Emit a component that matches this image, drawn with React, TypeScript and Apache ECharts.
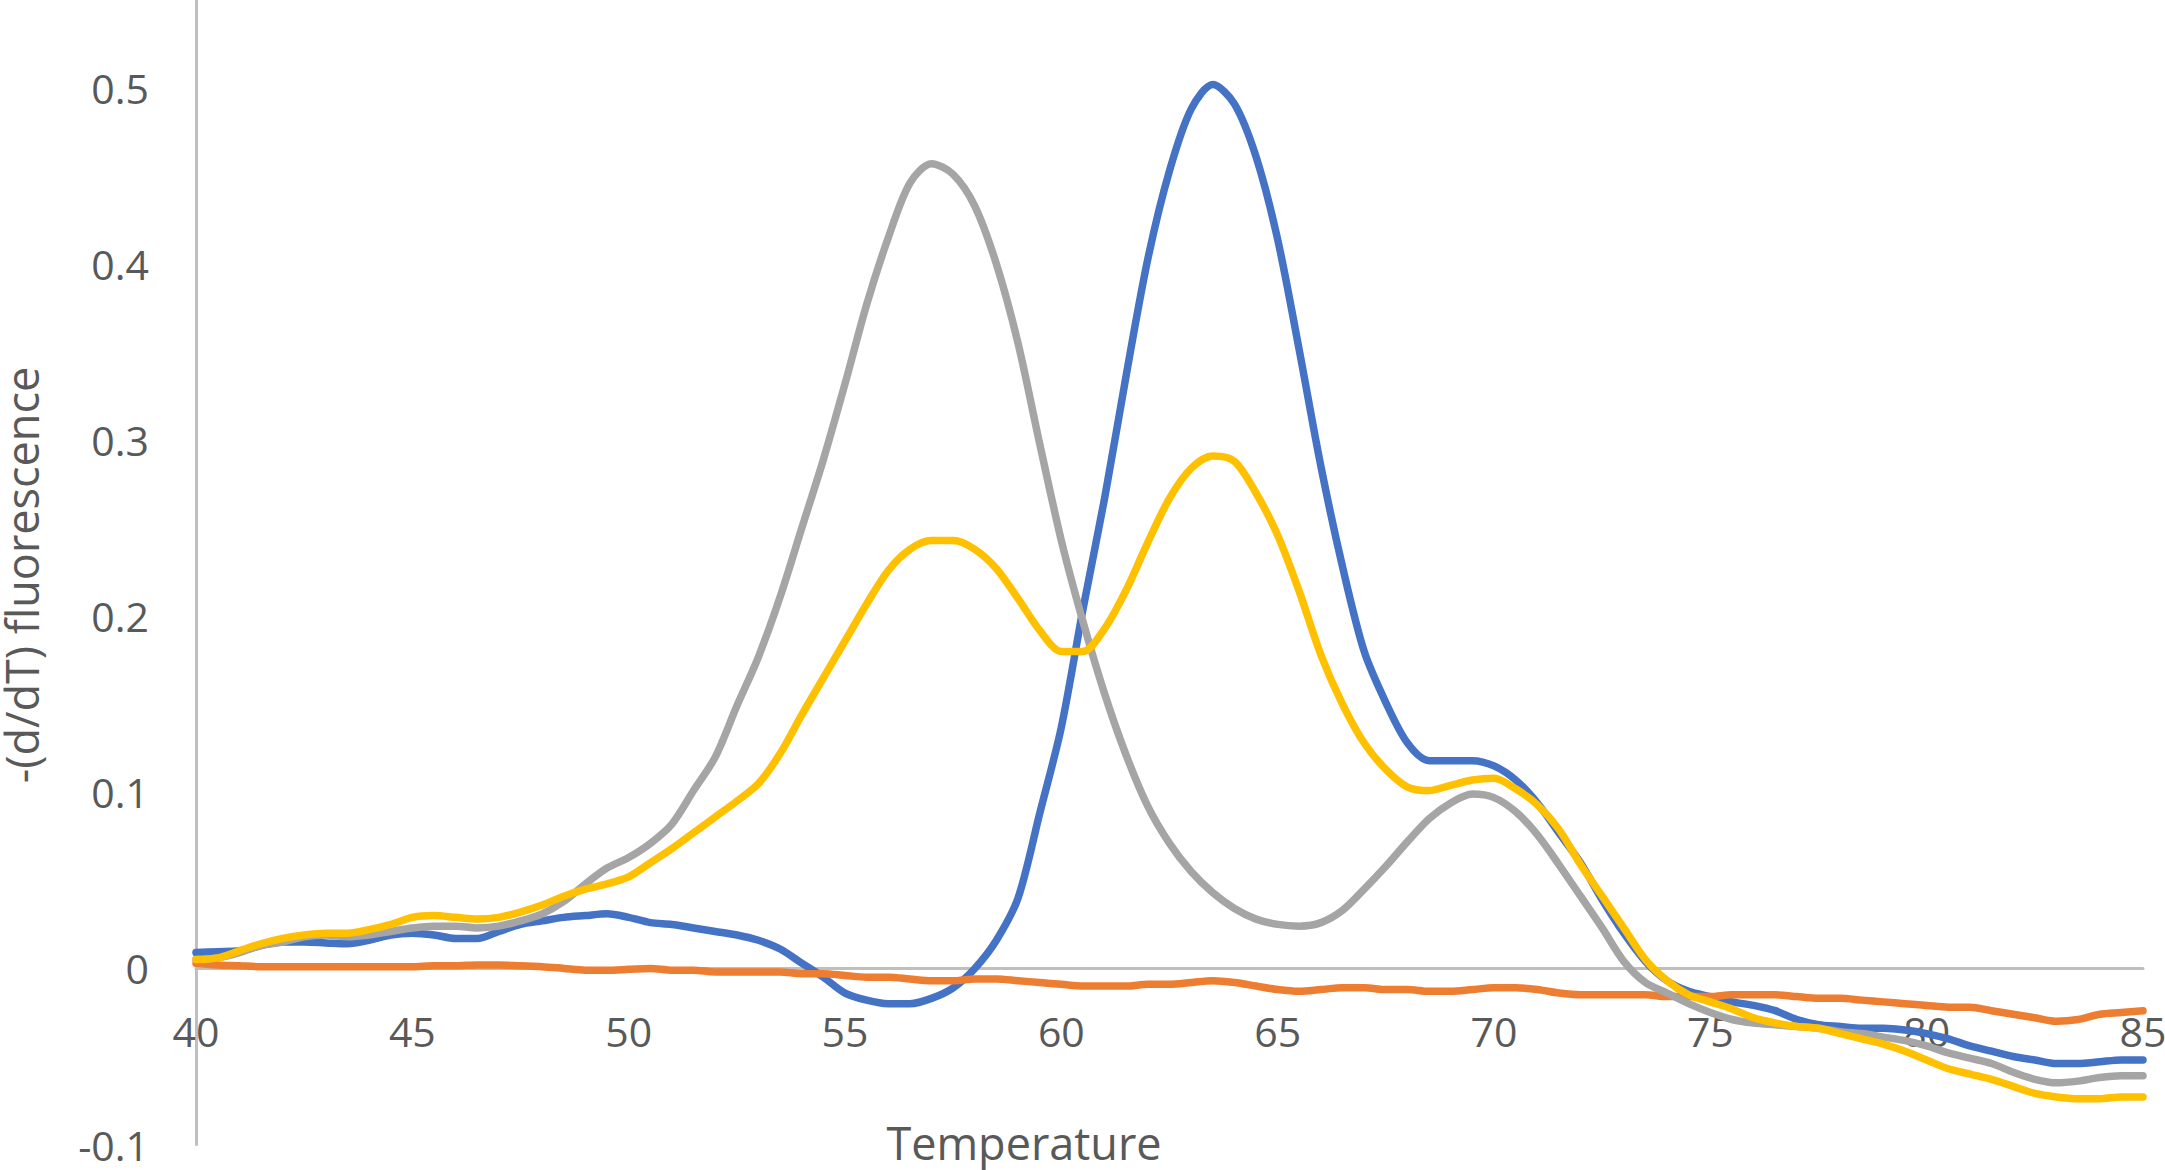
import React, { useEffect, useRef } from "react";
import * as echarts from "echarts";

// Temperature grid (°C)
const temps: number[] = [
  40, 40.5, 41, 41.5, 42, 42.5, 43, 43.5, 44, 44.5, 45, 45.5, 46, 46.5, 47, 47.5, 48, 48.5, 49, 49.5,
  50, 50.5, 51, 51.5, 52, 52.5, 53, 53.5, 54, 54.5, 55, 55.5, 56, 56.5, 57, 57.5, 58, 58.5, 59, 59.5,
  60, 60.5, 61, 61.5, 62, 62.5, 63, 63.5, 64, 64.5, 65, 65.5, 66, 66.5, 67, 67.5, 68, 68.5, 69, 69.5,
  70, 70.5, 71, 71.5, 72, 72.5, 73, 73.5, 74, 74.5, 75, 75.5, 76, 76.5, 77, 77.5, 78, 78.5, 79, 79.5,
  80, 80.5, 81, 81.5, 82, 82.5, 83, 83.5, 84, 84.5, 85,
];

const blueValues: number[] = [
  0.009, 0.0095, 0.010, 0.013, 0.015, 0.015, 0.0145, 0.014, 0.016, 0.019, 0.020, 0.019, 0.017, 0.017, 0.021, 0.025, 0.027, 0.029, 0.030, 0.031,
  0.029, 0.026, 0.025, 0.023, 0.021, 0.019, 0.016, 0.011, 0.003, -0.005, -0.014, -0.018, -0.020, -0.020, -0.017, -0.011, 0.000, 0.016, 0.040, 0.088,
  0.137, 0.204, 0.267, 0.337, 0.403, 0.453, 0.488, 0.502, 0.491, 0.461, 0.414, 0.351, 0.285, 0.228, 0.180, 0.151, 0.128, 0.118, 0.118, 0.118,
  0.115, 0.107, 0.094, 0.077, 0.060, 0.039, 0.020, 0.004, -0.007, -0.013, -0.016, -0.019, -0.021, -0.024, -0.029, -0.032, -0.033, -0.034, -0.034, -0.035,
  -0.037, -0.040, -0.044, -0.047, -0.050, -0.052, -0.054, -0.054, -0.053, -0.052, -0.052,
];

const orangeValues: number[] = [
  0.003, 0.002, 0.0015, 0.001, 0.001, 0.001, 0.001, 0.001, 0.001, 0.001, 0.001, 0.0015, 0.0015, 0.002, 0.002, 0.0015, 0.001, 0.000, -0.001, -0.001,
  -0.0005, 0.000, -0.001, -0.001, -0.002, -0.002, -0.002, -0.002, -0.003, -0.003, -0.004, -0.005, -0.005, -0.006, -0.007, -0.007, -0.006, -0.006, -0.007, -0.008,
  -0.009, -0.010, -0.010, -0.010, -0.009, -0.009, -0.008, -0.007, -0.008, -0.010, -0.012, -0.013, -0.012, -0.011, -0.011, -0.012, -0.012, -0.013, -0.013, -0.012,
  -0.011, -0.011, -0.012, -0.014, -0.015, -0.015, -0.015, -0.015, -0.016, -0.016, -0.016, -0.015, -0.015, -0.015, -0.016, -0.017, -0.017, -0.018, -0.019, -0.020,
  -0.021, -0.022, -0.022, -0.024, -0.026, -0.028, -0.030, -0.029, -0.026, -0.025, -0.024,
];

const grayValues: number[] = [
  0.005, 0.006, 0.009, 0.013, 0.015, 0.018, 0.019, 0.018, 0.019, 0.021, 0.023, 0.024, 0.024, 0.023, 0.024, 0.027, 0.031, 0.038, 0.048, 0.057,
  0.063, 0.071, 0.082, 0.101, 0.120, 0.149, 0.177, 0.211, 0.250, 0.289, 0.332, 0.377, 0.415, 0.446, 0.457, 0.451, 0.433, 0.400, 0.355, 0.298,
  0.243, 0.197, 0.156, 0.121, 0.092, 0.071, 0.055, 0.043, 0.034, 0.028, 0.025, 0.024, 0.026, 0.033, 0.045, 0.058, 0.072, 0.085, 0.094, 0.099,
  0.097, 0.089, 0.076, 0.059, 0.041, 0.023, 0.004, -0.008, -0.014, -0.020, -0.025, -0.029, -0.031, -0.032, -0.033, -0.034, -0.036, -0.037, -0.039, -0.041,
  -0.044, -0.048, -0.051, -0.054, -0.059, -0.063, -0.065, -0.064, -0.062, -0.061, -0.061,
];

const yellowValues: number[] = [
  0.005, 0.006, 0.010, 0.014, 0.017, 0.019, 0.020, 0.020, 0.022, 0.025, 0.029, 0.030, 0.029, 0.028, 0.029, 0.032, 0.036, 0.041, 0.045, 0.048,
  0.052, 0.060, 0.068, 0.077, 0.086, 0.095, 0.105, 0.122, 0.144, 0.165, 0.186, 0.207, 0.226, 0.238, 0.243, 0.243, 0.238, 0.227, 0.210, 0.192,
  0.180, 0.180, 0.193, 0.215, 0.242, 0.267, 0.284, 0.291, 0.288, 0.270, 0.246, 0.214, 0.178, 0.150, 0.128, 0.113, 0.103, 0.101, 0.104, 0.107,
  0.108, 0.102, 0.093, 0.079, 0.059, 0.041, 0.023, 0.005, -0.007, -0.015, -0.019, -0.023, -0.028, -0.031, -0.033, -0.034, -0.037, -0.040, -0.043, -0.047,
  -0.052, -0.057, -0.060, -0.063, -0.067, -0.071, -0.073, -0.074, -0.074, -0.073, -0.073,
];

const xTitle = "Temperature";
const yTitle = "-(d/dT) fluorescence";

const pairs = (vals: number[]) => temps.map((t, i) => [t, vals[i]]);

export default function App() {
  const ref = useRef<HTMLDivElement>(null);

  useEffect(() => {
    if (!ref.current) return;
    const chart = echarts.init(ref.current, undefined, { renderer: "svg" });
    const font = "'Open Sans', 'DejaVu Sans', sans-serif";
    const line = (name: string, color: string, vals: number[]) => ({
      name,
      type: "line",
      data: pairs(vals),
      symbol: "none",
      smooth: 0.3,
      lineStyle: { color, width: 7.5, cap: "round", join: "round" },
      itemStyle: { color },
    });
    chart.setOption({
      animation: false,
      backgroundColor: "#ffffff",
      textStyle: { fontFamily: font },
      grid: { left: 196, right: 22, top: 0, bottom: 25.5, containLabel: false, outerBoundsMode: "none" },
      xAxis: {
        type: "value",
        min: 40,
        max: 85,
        interval: 5,
        offset: -176,
        axisLine: { show: true, onZero: false, lineStyle: { color: "#bfbfbf", width: 3 } },
        axisTick: { show: false },
        splitLine: { show: false },
        axisLabel: { color: "#595959", fontSize: 41, fontFamily: font, margin: 42 },
      },
      yAxis: {
        type: "value",
        min: -0.1,
        max: 0.55,
        interval: 0.1,
        axisLine: { show: true, onZero: false, lineStyle: { color: "#bfbfbf", width: 3 } },
        axisTick: { show: false },
        splitLine: { show: false },
        axisLabel: { color: "#595959", fontSize: 41, fontFamily: font, margin: 47, showMaxLabel: false },
      },
      graphic: [
        {
          type: "text",
          x: 1024,
          y: 1142,
          style: {
            text: xTitle,
            fill: "#595959",
            font: `45px ${font}`,
            textAlign: "center",
            textVerticalAlign: "middle",
          },
        },
        {
          type: "text",
          x: 21,
          y: 575,
          rotation: Math.PI / 2,
          style: {
            text: yTitle,
            fill: "#595959",
            font: `45px ${font}`,
            textAlign: "center",
            textVerticalAlign: "middle",
          },
        },
      ],
      series: [
        line("Blue", "#4472C4", blueValues),
        line("Orange", "#ED7D31", orangeValues),
        line("Gray", "#A5A5A5", grayValues),
        line("Yellow", "#FFC000", yellowValues),
      ],
    });
    return () => chart.dispose();
  }, []);

  return (
    <div
      ref={ref}
      style={{ position: "fixed", left: 0, top: 0, width: 2165, height: 1170, background: "#fff" }}
    />
  );
}
